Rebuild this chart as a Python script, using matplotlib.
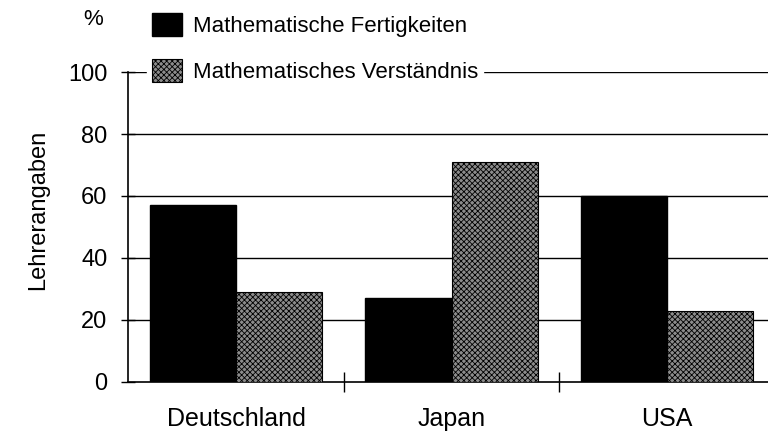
import numpy as np
import matplotlib.pyplot as plt
from matplotlib.ticker import FixedLocator

plt.rcParams['font.family'] = ['Liberation Sans', 'DejaVu Sans']
plt.rcParams['hatch.linewidth'] = 0.6

# Daten
laender = ['Deutschland', 'Japan', 'USA']
fertigkeiten = [57, 27, 60]
verstaendnis = [29, 71, 23]
serien = ['Mathematische Fertigkeiten', 'Mathematisches Verständnis']
yticks = [0, 20, 40, 60, 80, 100]

fig = plt.figure(figsize=(7.68, 4.34), dpi=100)
ax = fig.add_axes([0.167, 0.12, 0.842, 0.714])

x = np.arange(len(laender))
b = 0.4
ax.bar(x - b / 2, fertigkeiten, b, color='black', edgecolor='black', zorder=3,
       label=serien[0])
ax.bar(x + b / 2, verstaendnis, b, color='#8c8c8c', edgecolor='black', hatch='xxxxxx',
       linewidth=0.8, zorder=3, label=serien[1])

ax.set_xlim(-0.5, 2.5)
ax.set_ylim(0, 100)
ax.set_yticks(yticks)
ax.set_xticks(x)
ax.set_xticklabels(laender, fontsize=18)
ax.xaxis.set_minor_locator(FixedLocator([0.5, 1.5]))
ax.tick_params(axis='x', which='major', length=0, pad=18)
ax.tick_params(axis='x', which='minor', direction='inout', length=14, width=1)
ax.tick_params(axis='y', direction='inout', length=10, width=1, labelsize=17, pad=10)

for yy in yticks[1:]:
    ax.axhline(yy, color='black', lw=1, zorder=1)

for s in ['top', 'right']:
    ax.spines[s].set_visible(False)
ax.spines['left'].set_linewidth(1.2)
ax.spines['bottom'].set_linewidth(1.2)

ax.set_ylabel('Lehrerangaben', fontsize=17)
ax.yaxis.set_label_coords(-0.123, 0.555)
fig.text(0.121, 0.955, '%', fontsize=16, ha='center', va='center')

leg = fig.legend(loc='upper left', bbox_to_anchor=(0.192, 0.98), fontsize=16,
                 frameon=True, facecolor='white', edgecolor='white', framealpha=1,
                 fancybox=False, handlelength=1.35, handleheight=1.2,
                 labelspacing=1.0, handletextpad=0.5, borderpad=0.2,
                 borderaxespad=0)
leg.set_zorder(5)

fig.savefig('out.png', dpi=100)
